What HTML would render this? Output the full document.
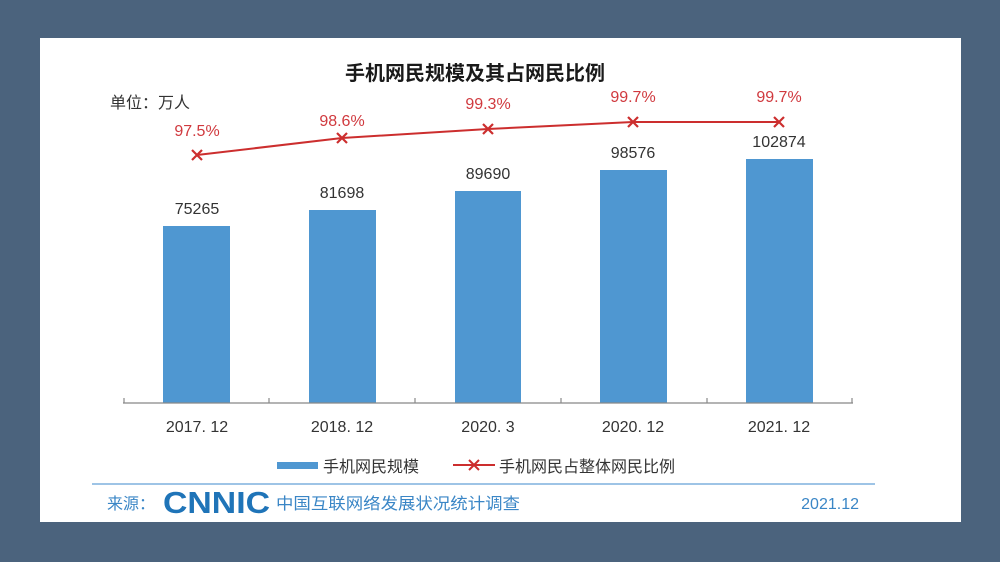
<!DOCTYPE html>
<html><head><meta charset="utf-8"><style>
html,body{margin:0;padding:0;background:#4b637d;}
svg{display:block;}
text{font-family:"Liberation Sans","Noto Sans CJK SC",sans-serif;}
</style></head><body>
<svg width="1000" height="562" viewBox="0 0 1000 562" xmlns="http://www.w3.org/2000/svg">
<rect x="0" y="0" width="1000" height="562" fill="#4b637d"/>
<rect x="40" y="38" width="921" height="484" fill="#ffffff"/>
<text x="475" y="80" font-size="20" font-weight="bold" text-anchor="middle" fill="#1a1a1a">手机网民规模及其占网民比例</text>
<text x="110" y="108" font-size="16" fill="#333">单位：万人</text>
<g fill="#4f97d1">
<rect x="163" y="226" width="67" height="177"/>
<rect x="309" y="210" width="67" height="193"/>
<rect x="455" y="191" width="66" height="212"/>
<rect x="600" y="170" width="67" height="233"/>
<rect x="746" y="159" width="67" height="244"/>
</g>
<g stroke="#888" stroke-width="1.2" fill="none">
<line x1="123" y1="403" x2="853" y2="403"/>
<line x1="124" y1="398" x2="124" y2="403"/>
<line x1="269" y1="398" x2="269" y2="403"/>
<line x1="415" y1="398" x2="415" y2="403"/>
<line x1="561" y1="398" x2="561" y2="403"/>
<line x1="707" y1="398" x2="707" y2="403"/>
<line x1="852" y1="398" x2="852" y2="403"/>
</g>
<g font-size="16" fill="#333" text-anchor="middle">
<text x="197" y="214">75265</text>
<text x="342" y="198">81698</text>
<text x="488" y="179">89690</text>
<text x="633" y="158">98576</text>
<text x="779" y="147">102874</text>
<text x="197" y="432">2017. 12</text>
<text x="342" y="432">2018. 12</text>
<text x="488" y="432">2020. 3</text>
<text x="633" y="432">2020. 12</text>
<text x="779" y="432">2021. 12</text>
</g>
<polyline points="197,155 342,138 488,129 633,122 779,122" fill="none" stroke="#cc2e2e" stroke-width="2"/>
<g stroke="#cc2e2e" stroke-width="2.2">
<path d="M192,150l10,10M202,150l-10,10"/>
<path d="M337,133l10,10M347,133l-10,10"/>
<path d="M483,124l10,10M493,124l-10,10"/>
<path d="M628,117l10,10M638,117l-10,10"/>
<path d="M774,117l10,10M784,117l-10,10"/>
</g>
<g font-size="16" fill="#d0393e" text-anchor="middle">
<text x="197" y="136">97.5%</text>
<text x="342" y="126">98.6%</text>
<text x="488" y="109">99.3%</text>
<text x="633" y="102">99.7%</text>
<text x="779" y="102">99.7%</text>
</g>
<rect x="277" y="462" width="41" height="7" fill="#4f97d1"/>
<text x="323" y="472" font-size="16" fill="#333">手机网民规模</text>
<line x1="453" y1="465" x2="495" y2="465" stroke="#cc2e2e" stroke-width="2"/>
<path d="M469,460l10,10M479,460l-10,10" stroke="#cc2e2e" stroke-width="2"/>
<text x="499" y="472" font-size="16" fill="#333">手机网民占整体网民比例</text>
<line x1="92" y1="484" x2="875" y2="484" stroke="#7fb1de" stroke-width="1.5"/>
<text x="107" y="509" font-size="16" fill="#3a86c6">来源：</text>
<text x="163" y="513" font-size="31" font-weight="bold" fill="#1f74b8" textLength="107" lengthAdjust="spacingAndGlyphs">CNNIC</text>
<text x="276" y="509" font-size="16" fill="#3a86c6" textLength="244" lengthAdjust="spacingAndGlyphs">中国互联网络发展状况统计调查</text>
<text x="859" y="509" font-size="16" fill="#3a86c6" text-anchor="end">2021.12</text>
</svg>
</body></html>
